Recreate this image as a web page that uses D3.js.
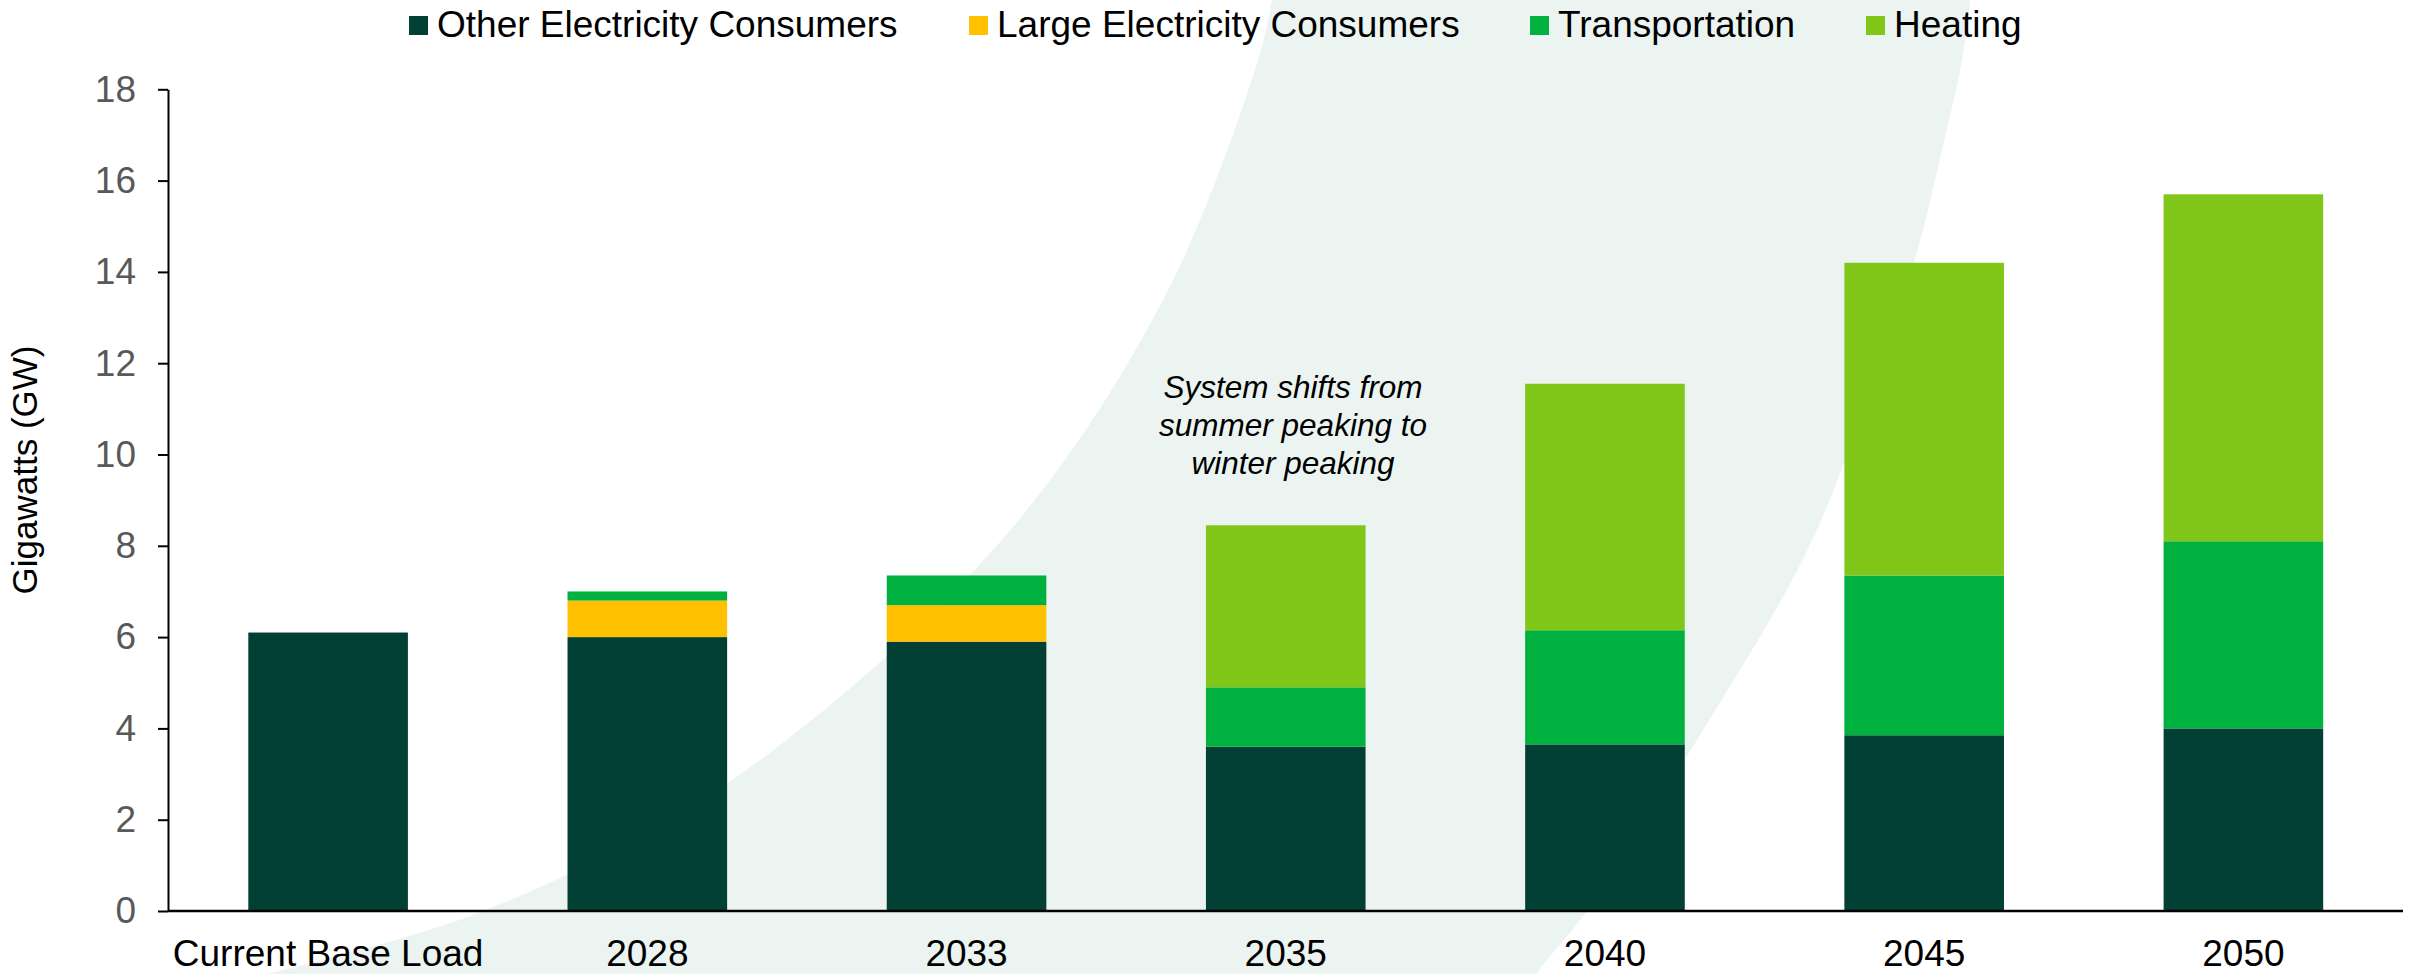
<!DOCTYPE html>
<html>
<head>
<meta charset="utf-8">
<script src="https://cdn.jsdelivr.net/npm/d3@7"></script>
<style>
  html, body { margin: 0; padding: 0; background: #ffffff; }
  svg { display: block; font-family: "Liberation Sans", Arial, sans-serif; }
</style>
</head>
<body>
<svg id="chart" width="2419" height="974"></svg>
<script>
// Peak load outlook by driver (GW)
const categories = ["Current Base Load", "2028", "2033", "2035", "2040", "2045", "2050"];
const otherConsumers = [6.1, 6.0, 5.9, 3.6, 3.65, 3.85, 4.0];
const largeConsumers = [0, 0.8, 0.8, 0, 0, 0, 0];
const transportation = [0, 0.2, 0.65, 1.3, 2.5, 3.5, 4.1];
const heating = [0, 0, 0, 3.55, 5.4, 6.85, 7.6];
const yTicks = [0, 2, 4, 6, 8, 10, 12, 14, 16, 18];

const seriesNames = ["Other Electricity Consumers", "Large Electricity Consumers", "Transportation", "Heating"];
const seriesColors = ["#024036", "#FFC000", "#00B140", "#80C71A"];
const seriesValues = [otherConsumers, largeConsumers, transportation, heating];

const svg = d3.select("#chart");

// Decorative swoosh behind the plot
const leftEdge = [[266, 974], [486, 910], [728, 783], [1000, 542], [1163, 300], [1258, 60], [1272, 0], [1276, -30]];
const rightEdge = [[1972, -30], [1970, 0], [1962, 60], [1942, 150], [1914, 262], [1845, 461], [1800, 565], [1700, 735], [1587, 911], [1536, 974], [1520, 1000]];
const curve = d3.line().curve(d3.curveCatmullRom.alpha(0.5));
const swooshPath = curve(leftEdge) + curve(rightEdge).replace(/^M/, "L") + "L266,1000Z";
svg.append("path").attr("d", swooshPath).attr("fill", "#EBF4F0");

// Scales
const x = d3.scaleBand().domain(categories).range([168.5, 2403]).paddingInner(0.5).paddingOuter(0.25);
const y = d3.scaleLinear().domain([0, 18]).range([911, 89.3]);

// Stacked data
const rows = categories.map((c, i) => {
  const r = { cat: c };
  seriesNames.forEach((s, k) => { r[s] = seriesValues[k][i]; });
  return r;
});
const stacked = d3.stack().keys(seriesNames)(rows);

const barsG = svg.append("g");
stacked.forEach((layer, k) => {
  barsG.append("g")
    .attr("fill", seriesColors[k])
    .selectAll("rect")
    .data(layer.filter(d => d[1] - d[0] > 0))
    .join("rect")
    .attr("x", d => x(d.data.cat))
    .attr("width", x.bandwidth())
    .attr("y", d => y(d[1]))
    .attr("height", d => y(d[0]) - y(d[1]));
});

// Y axis
const yAxis = d3.axisLeft(y).tickValues(yTicks).tickSize(10).tickPadding(22).tickSizeOuter(0);
const yG = svg.append("g").attr("transform", "translate(168,0)").call(yAxis);
yG.select(".domain").attr("stroke", "#000").attr("stroke-width", 2);
yG.selectAll(".tick line").attr("stroke", "#000").attr("stroke-width", 2);
yG.selectAll(".tick text")
  .attr("fill", "#595959")
  .attr("font-size", 37)
  .attr("font-family", "Liberation Sans, Arial, sans-serif");

// X axis
const xAxis = d3.axisBottom(x).tickSize(0).tickPadding(29);
const xG = svg.append("g").attr("transform", "translate(0,911)").call(xAxis);
xG.select(".domain").attr("d", "M168,0H2403").attr("stroke", "#000").attr("stroke-width", 2.5);
xG.selectAll(".tick text")
  .attr("fill", "#000")
  .attr("font-size", 37)
  .attr("font-family", "Liberation Sans, Arial, sans-serif");

// Y axis title
svg.append("text")
  .attr("transform", "translate(37,470) rotate(-90)")
  .attr("text-anchor", "middle")
  .attr("font-size", 35)
  .attr("fill", "#000")
  .text("Gigawatts (GW)");

// Annotation
const note = svg.append("text")
  .attr("text-anchor", "middle")
  .attr("font-size", 31.5)
  .attr("font-style", "italic")
  .attr("fill", "#000");
["System shifts from", "summer peaking to", "winter peaking"].forEach((t, i) => {
  note.append("tspan").attr("x", 1293).attr("y", 398 + i * 38).text(t);
});

// Legend
const legendX = [409, 969, 1530, 1866];
const legend = svg.append("g");
seriesNames.forEach((s, k) => {
  const g = legend.append("g").attr("transform", `translate(${legendX[k]},0)`);
  g.append("rect").attr("x", 0).attr("y", 16).attr("width", 19).attr("height", 19).attr("fill", seriesColors[k]);
  g.append("text").attr("x", 28).attr("y", 37).attr("font-size", 37).attr("fill", "#000").text(s);
});
</script>
</body>
</html>
